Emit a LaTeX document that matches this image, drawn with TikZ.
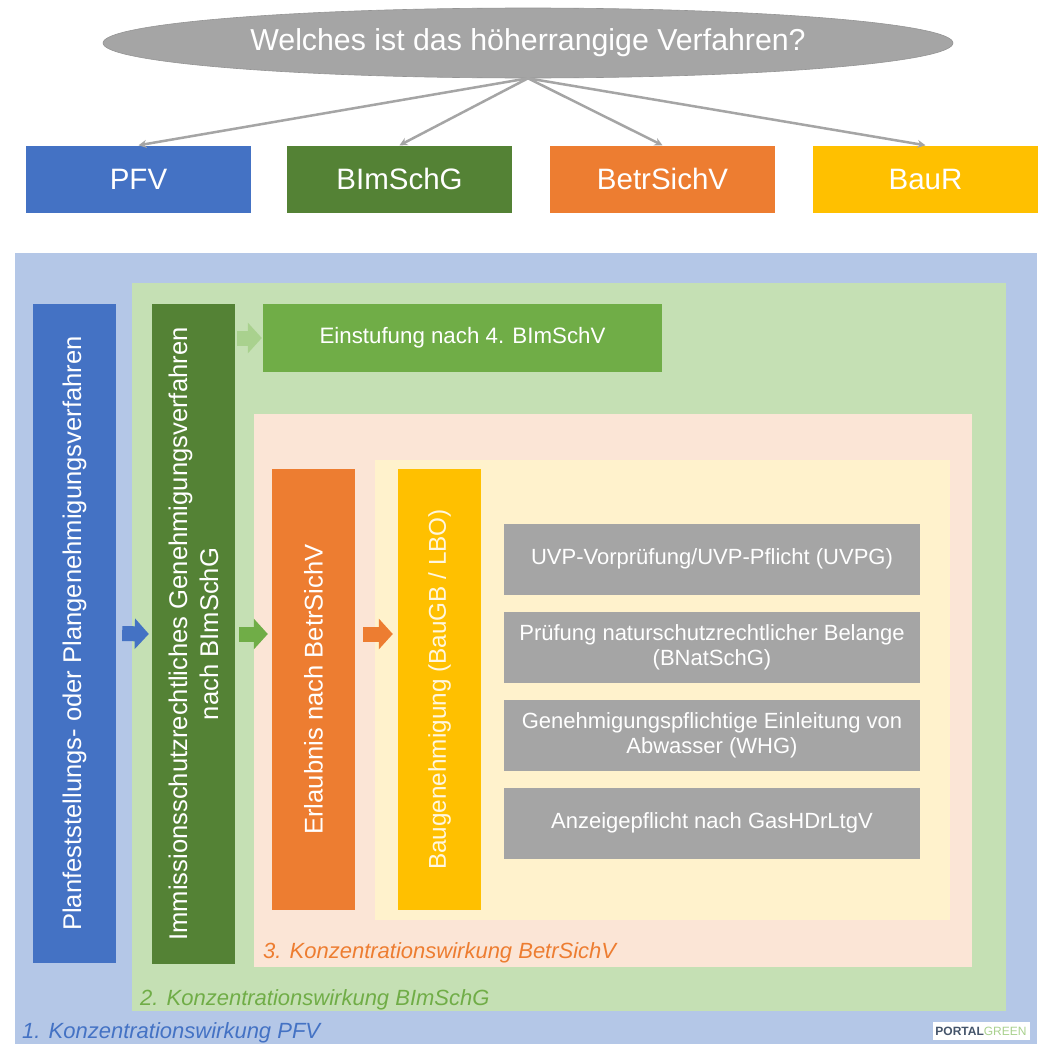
\documentclass[tikz,border=0pt]{standalone}
\usepackage{fontspec}
\setmainfont{Liberation Sans}
\usepackage{tikz}
\usetikzlibrary{positioning, arrows.meta, shapes.geometric}

\definecolor{pfvblue}{HTML}{4472C4}
\definecolor{bimgreen}{HTML}{548235}
\definecolor{betrorange}{HTML}{ED7D31}
\definecolor{baugold}{HTML}{FFC000}
\definecolor{einstgreen}{HTML}{70AD47}
\definecolor{boxgray}{HTML}{A5A5A5}
\definecolor{pfvlight}{HTML}{B4C7E7}
\definecolor{bimlight}{HTML}{C5E0B4}
\definecolor{betrlight}{HTML}{FBE5D6}
\definecolor{baulight}{HTML}{FFF2CC}
\definecolor{arrowlight}{HTML}{A9D18E}
\definecolor{logoslate}{HTML}{44546A}

\begin{document}
\begin{tikzpicture}[x=1pt, y=-1pt,
    topbox/.style={minimum width=225, minimum height=67, inner sep=0, text=white, font=\fontsize{29.5}{34}\selectfont},
    bar/.style={rotate=90, minimum height=83, inner sep=0, text=white, align=center, font=\fontsize{25.6}{31}\selectfont},
    checkbox/.style={fill=boxgray, minimum width=416, minimum height=71, inner sep=0, text=white, align=center, font=\fontsize{22}{25}\selectfont},
    panellabel/.style={anchor=base west, inner sep=0, font=\fontsize{22}{26}\selectfont\itshape},
    blockarrow/.style={line width=15pt, -{Triangle[width=30pt, length=14pt]}},
    treearrow/.style={draw=boxgray, line width=2.5pt, -{Stealth[length=8pt, width=8pt]}}
  ]
    \useasboundingbox (0,0) rectangle (1038,1044);
    \fill[white] (0,0) rectangle (1038,1044);

    % the question and the four procedures
    \node[ellipse, fill=boxgray, draw=boxgray!90!black, line width=0.6pt, minimum width=850, minimum height=70, inner sep=0, text=white, font=\fontsize{30.3}{36}\selectfont] (q) at (528,43) {Welches ist das höherrangige Verfahren?};

    \node[topbox, fill=pfvblue]    (pfv)  at (138.5,179) {PFV};
    \node[topbox, fill=bimgreen]   (bim)  at (399.5,179) {BImSchG};
    \node[topbox, fill=betrorange] (betr) at (662.5,179) {BetrSichV};
    \node[topbox, fill=baugold]    (baur) at (925.5,179) {BauR};

    \draw[treearrow] (q.south) -- (pfv.north);
    \draw[treearrow] (q.south) -- (bim.north);
    \draw[treearrow] (q.south) -- (betr.north);
    \draw[treearrow] (q.south) -- (baur.north);

    % nested panels of the concentration effect
    \fill[pfvlight]  (15,253)  rectangle (1037,1044);
    \fill[bimlight]  (132,283) rectangle (1006,1011);
    \fill[betrlight] (254,414) rectangle (972,967);
    \fill[baulight]  (375,460) rectangle (950,920);

    % panel labels
    \node[panellabel, text=pfvblue]    (lab1) at (22,1038) {1. Konzentrationswirkung PFV};
    \node[panellabel, text=einstgreen] (lab2) at (140,1005) {2. Konzentrationswirkung BImSchG};
    \node[panellabel, text=betrorange] (lab3) at (263,958) {3. Konzentrationswirkung BetrSichV};

    % vertical bars
    \node[bar, fill=pfvblue, minimum width=659]    (plan) at (74.5,633.5) {Planfeststellungs- oder Plangenehmigungsverfahren};
    \node[bar, fill=bimgreen, minimum width=660]   (imm)  at (193.5,634) {Immissionsschutzrechtliches Genehmigungsverfahren\\nach BImSchG};
    \node[bar, fill=betrorange, minimum width=441] (erl)  at (313.5,689.5) {Erlaubnis nach BetrSichV};
    \node[bar, fill=baugold, minimum width=441, text=baulight!60!white, font=\fontsize{24.3}{30}\selectfont] (bau) at (439.5,689.5) {Baugenehmigung (BauGB / LBO)};

    % classification box
    \node[fill=einstgreen, minimum width=399, minimum height=68, inner sep=0, text=white, font=\fontsize{22.3}{26}\selectfont] (einst) at (462.5,338) {Einstufung nach 4. BImSchV};

    % the other permits
    \node[checkbox] (uvp) at (712,559) {UVP-Vorprüfung/UVP-Pflicht (UVPG)};
    \node[checkbox] (nat) at (712,647) {Prüfung naturschutzrechtlicher Belange\\(BNatSchG)};
    \node[checkbox] (whg) at (712,735) {Genehmigungspflichtige Einleitung von\\Abwasser (WHG)};
    \node[checkbox] (gas) at (712,823) {Anzeigepflicht nach GasHDrLtgV};

    % block arrows between the bars
    \draw[blockarrow, pfvblue, shorten <=6pt, shorten >=3pt] (plan.south) -- (imm.north);
    \draw[blockarrow, einstgreen, shorten <=4pt, shorten >=4pt] (imm.south) -- (imm.south -| erl.north);
    \draw[blockarrow, betrorange, shorten <=8pt, shorten >=5pt] (erl.south |- imm.south) -- (bau.north |- imm.south);
    \draw[blockarrow, arrowlight, shorten <=2pt, shorten >=1pt] (imm.south |- einst.west) -- (einst.west);

    % logo
    \node[fill=white, minimum width=97, minimum height=18, inner sep=1pt, font=\fontsize{12}{14}\selectfont] (logo) at (981,1031) {\textcolor{logoslate}{\bfseries PORTAL}\textcolor{arrowlight}{GREEN}};
  \end{tikzpicture}
\end{document}
